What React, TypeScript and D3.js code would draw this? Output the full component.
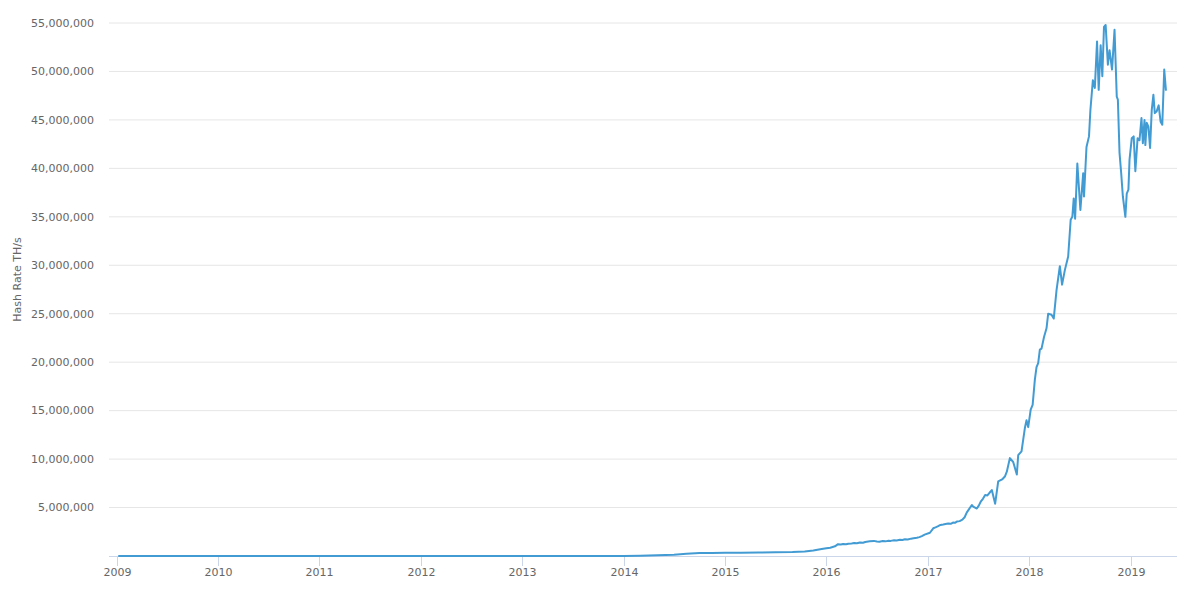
import React from 'react';
import * as d3 from 'd3';

// hash rate readings (TH/s), one value per date
const dates = [
  '2009-01-09', '2009-07-01', '2010-01-01', '2010-07-01', '2011-01-01', '2011-07-01',
  '2012-01-01', '2012-07-01', '2013-01-01', '2013-04-01', '2013-07-01', '2013-10-01',
  '2014-01-01', '2014-03-01', '2014-05-01', '2014-07-01', '2014-08-15', '2014-10-01',
  '2014-11-15', '2015-01-01', '2015-03-01', '2015-05-01', '2015-07-01', '2015-09-01',
  '2015-10-15', '2015-11-15', '2015-12-15',
  '2016-01-01', '2016-01-15', '2016-02-01', '2016-02-12', '2016-02-22', '2016-03-01',
  '2016-03-12', '2016-03-20', '2016-04-01', '2016-04-10', '2016-04-20', '2016-05-01',
  '2016-05-12', '2016-05-20', '2016-06-05', '2016-06-20', '2016-07-01', '2016-07-10',
  '2016-07-22', '2016-08-01', '2016-08-12', '2016-08-20', '2016-09-01', '2016-09-10',
  '2016-09-22', '2016-10-01', '2016-10-10', '2016-10-20', '2016-11-01', '2016-11-10',
  '2016-11-22', '2016-12-01', '2016-12-10', '2016-12-20',
  '2017-01-08', '2017-01-20', '2017-01-28', '2017-02-05', '2017-02-15', '2017-02-25',
  '2017-03-05', '2017-03-15', '2017-03-24', '2017-04-01', '2017-04-08', '2017-04-15',
  '2017-04-25', '2017-05-05', '2017-05-13', '2017-05-21', '2017-06-08', '2017-06-13',
  '2017-06-26', '2017-07-03', '2017-07-10', '2017-07-18', '2017-07-26', '2017-08-03',
  '2017-08-10', '2017-08-19', '2017-08-31', '2017-09-11',
  '2017-09-25', '2017-10-05', '2017-10-12', '2017-10-23', '2017-11-04', '2017-11-17',
  '2017-11-22', '2017-12-04', '2017-12-16', '2017-12-22', '2017-12-28',
  '2018-01-06', '2018-01-13', '2018-01-21', '2018-01-27', '2018-02-02', '2018-02-08',
  '2018-02-14', '2018-02-23', '2018-03-04', '2018-03-10', '2018-03-22', '2018-03-30',
  '2018-04-09', '2018-04-21', '2018-04-29', '2018-05-09', '2018-05-21', '2018-05-30',
  '2018-06-05', '2018-06-10', '2018-06-15', '2018-06-23', '2018-07-04', '2018-07-14',
  '2018-07-17', '2018-07-26', '2018-08-04', '2018-08-09', '2018-08-18', '2018-08-25',
  '2018-09-02', '2018-09-08', '2018-09-15', '2018-09-21', '2018-09-27', '2018-10-03',
  '2018-10-11', '2018-10-17', '2018-10-26', '2018-11-04', '2018-11-12', '2018-11-16',
  '2018-11-22', '2018-11-28', '2018-12-04', '2018-12-13', '2018-12-18', '2018-12-24',
  '2018-12-28',
  '2019-01-05', '2019-01-12', '2019-01-18', '2019-01-26', '2019-02-02', '2019-02-09',
  '2019-02-14', '2019-02-20', '2019-02-23', '2019-02-28', '2019-03-06', '2019-03-12',
  '2019-03-18', '2019-03-24', '2019-03-29', '2019-04-05', '2019-04-12', '2019-04-19',
  '2019-04-25', '2019-05-02', '2019-05-08'
];

const hashRate = [
  0, 0, 0, 0.1, 0.5, 10,
  9, 17, 22, 60, 250, 1500,
  12000, 35000, 80000, 140000, 220000, 300000,
  320000, 335000, 345000, 360000, 390000, 420000,
  470000, 560000, 720000,
  800000, 860000, 1000000, 1220000, 1190000, 1240000,
  1210000, 1270000, 1300000, 1340000, 1320000, 1400000,
  1370000, 1450000, 1520000, 1560000, 1500000, 1470000,
  1540000, 1510000, 1580000, 1560000, 1620000, 1600000,
  1680000, 1650000, 1730000, 1700000, 1790000, 1830000,
  1880000, 1950000, 2050000, 2200000,
  2400000, 2860000, 2950000, 3050000, 3200000, 3250000,
  3300000, 3350000, 3320000, 3450000, 3420000, 3550000,
  3600000, 3750000, 4000000, 4500000, 5260000, 5100000,
  4900000, 5200000, 5600000, 5900000, 6300000, 6250000,
  6500000, 6800000, 5400000, 7700000,
  7900000, 8200000, 8700000, 10100000, 9700000, 8400000,
  10400000, 10800000, 13200000, 14000000, 13300000,
  15100000, 15600000, 18200000, 19500000, 19900000, 21300000,
  21400000, 22600000, 23500000, 25000000, 24900000, 24500000,
  27400000, 29900000, 28000000, 29500000, 30900000, 34700000,
  35000000, 36900000, 34800000, 40500000, 35700000, 39500000,
  37100000, 42200000, 43300000, 46000000, 49100000, 48300000,
  53100000, 48100000, 52700000, 49500000, 54600000, 54800000,
  50700000, 52200000, 50200000, 54300000, 47400000, 47100000,
  41600000, 39500000, 37100000, 35000000, 37400000, 37800000,
  40900000,
  43100000, 43300000, 39700000, 43100000, 42900000, 45200000,
  42600000, 45000000, 42400000, 44700000, 44300000, 42100000,
  46000000, 47600000, 45700000, 45900000, 46500000, 44800000,
  44500000, 50200000, 48100000
];

const yTicks = [5e6, 10e6, 15e6, 20e6, 25e6, 30e6, 35e6, 40e6, 45e6, 50e6, 55e6];
const yearTicks = [2009, 2010, 2011, 2012, 2013, 2014, 2015, 2016, 2017, 2018, 2019];

const W = 1200;
const H = 590;
const left = 109;
const right = 1177;
const top = 23;
const bottom = 556;
const font = '"DejaVu Sans", sans-serif';

export default function App() {
  const parse = d3.utcParse('%Y-%m-%d');
  const data = dates.map((d, i) => ({ date: parse(d) as Date, value: hashRate[i] }));

  const x = d3.scaleUtc()
    .domain([new Date(Date.UTC(2008, 11, 4)), new Date(Date.UTC(2019, 5, 17))])
    .range([left, right]);
  const y = d3.scaleLinear().domain([0, 55e6]).range([bottom, top]);

  const line = d3.line<{ date: Date; value: number }>()
    .x(d => x(d.date))
    .y(d => y(d.value));

  const fmt = d3.format(',');

  return (
    <svg width={W} height={H} style={{ position: 'absolute', left: 0, top: 0, background: '#fff' }}>
      {/* grid + y labels */}
      {yTicks.map(t => (
        <g key={t}>
          <line x1={left} x2={right} y1={y(t)} y2={y(t)} stroke="#e6e6e6" strokeWidth={1} />
          <text x={94} y={y(t)} dy="0.35em" textAnchor="end" fontFamily={font} fontSize={11} fill="#666">
            {fmt(t)}
          </text>
        </g>
      ))}

      {/* x axis */}
      <line x1={left} x2={right} y1={bottom + 0.5} y2={bottom + 0.5} stroke="#ccd6eb" strokeWidth={1} />
      {yearTicks.map(yr => {
        const px = Math.round(x(new Date(Date.UTC(yr, 0, 1)))) + 0.5;
        return (
          <g key={yr}>
            <line x1={px} x2={px} y1={bottom} y2={bottom + 10} stroke="#ccd6eb" strokeWidth={1} />
            <text x={px} y={576} textAnchor="middle" fontFamily={font} fontSize={11} fill="#666">
              {yr}
            </text>
          </g>
        );
      })}

      {/* axis title */}
      <text
        transform={`translate(21,${(top + bottom) / 2 - 10}) rotate(-90)`}
        textAnchor="middle"
        fontFamily={font}
        fontSize={11}
        fill="#666"
      >
        Hash Rate TH/s
      </text>

      <path
        d={line(data) || ''}
        fill="none"
        stroke="#439bd3"
        strokeWidth={2}
        strokeLinejoin="round"
        strokeLinecap="round"
      />
    </svg>
  );
}
